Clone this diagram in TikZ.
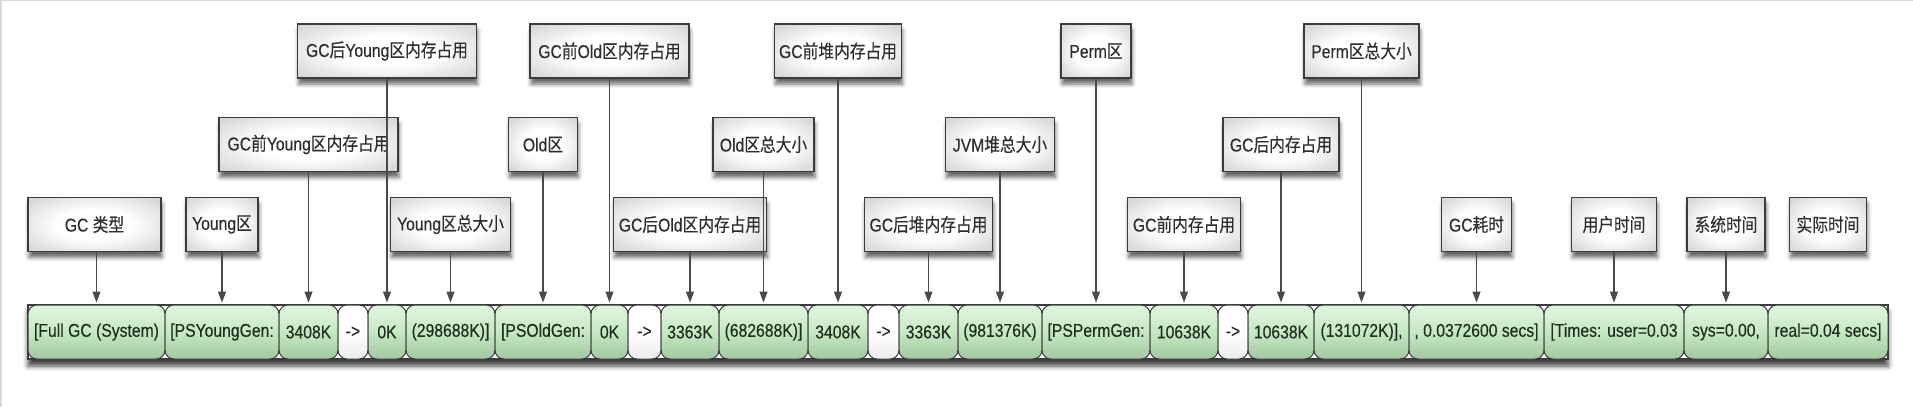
\documentclass[tikz,border=0pt]{standalone}
\usepackage{fontspec}
\setmainfont{Liberation Sans}[FakeStretch=0.85,FakeBold=0.3]
\newfontfamily\cjk{Noto Sans CJK SC}[FakeStretch=0.85,FakeBold=0.3]
\usetikzlibrary{arrows.meta,shadows.blur}
\newcommand\zh[1]{{\cjk #1}}
\definecolor{txt}{HTML}{2E2E2E}
\definecolor{celltxt}{HTML}{1F2E1F}
\definecolor{boxline}{HTML}{3C3C3C}
\definecolor{lblmid}{HTML}{B4B4B4}
\definecolor{lbledge}{HTML}{8C8C8C}
\definecolor{cellTop}{HTML}{E2F5E0}
\definecolor{cellMid}{HTML}{C6E9C3}
\definecolor{cellBot}{HTML}{A2C8A0}
\definecolor{conncol}{HTML}{4A4A4A}
\pgfdeclareradialshading{lblshade}{\pgfpoint{0bp}{0bp}}{color(0bp)=(white); color(14bp)=(white); color(50bp)=(lblmid); color(72bp)=(lbledge)}
\tikzset{
  lbl/.style={draw=boxline, line width=1.3pt, minimum height=54pt, inner sep=0pt,
    shading=lblshade, text=txt, font=\fontsize{18.5}{20}\selectfont,
    blur shadow={shadow xshift=1pt, shadow yshift=-6pt, shadow blur radius=4pt, shadow opacity=60}},
  cell/.style={draw=boxline, line width=1pt, rounded corners=9pt, minimum height=54pt, inner sep=0pt,
    top color=cellTop, bottom color=cellBot, middle color=cellMid, text=celltxt,
    font=\fontsize{18.5}{20}\selectfont},
  arrcell/.style={cell, top color=white, bottom color=white!85!gray, middle color=white},
  bar/.style={draw=boxline, line width=1.2pt, fill=white,
    blur shadow={shadow xshift=0pt, shadow yshift=-7pt, shadow blur radius=5pt, shadow opacity=75}},
  conn/.style={draw=conncol, line width=1.3pt, -{Triangle[length=11pt,width=8pt]}, shorten >=2pt},
  frame/.style={draw=gray!30, line width=2pt}
}
\begin{document}
\begin{tikzpicture}[x=1pt,y=-1pt]
\useasboundingbox (0,0) rectangle (1913,407);
\draw[frame] (1,0) coordinate (fa) -- (1,407) coordinate (fb);
\draw[frame, line width=1pt] (0,0.5) coordinate (fc) -- (1913,0.5) coordinate (fd);

% bar
\node[bar, minimum width=1860pt, minimum height=54pt, inner sep=0pt] (barbox) at (958,332) {};
\node[cell, minimum width=137pt] (c1) at (96.5,332) {[Full GC (System)};
\node[cell, minimum width=114pt] (c2) at (222,332) {[PSYoungGen:};
\node[cell, minimum width=59pt] (c3) at (308.5,332) {3408K};
\node[arrcell, minimum width=30pt] (c4) at (353,332) {->};
\node[cell, minimum width=38pt] (c5) at (387,332) {0K};
\node[cell, minimum width=89pt] (c6) at (450.5,332) {(298688K)]};
\node[cell, minimum width=96pt] (c7) at (543,332) {[PSOldGen:};
\node[cell, minimum width=37pt] (c8) at (609.5,332) {0K};
\node[arrcell, minimum width=33pt] (c9) at (644.5,332) {->};
\node[cell, minimum width=58pt] (c10) at (690,332) {3363K};
\node[cell, minimum width=89pt] (c11) at (763.5,332) {(682688K)]};
\node[cell, minimum width=60pt] (c12) at (838,332) {3408K};
\node[arrcell, minimum width=31pt] (c13) at (883.5,332) {->};
\node[cell, minimum width=59pt] (c14) at (928.5,332) {3363K};
\node[cell, minimum width=84pt] (c15) at (1000,332) {(981376K)};
\node[cell, minimum width=108pt] (c16) at (1096,332) {[PSPermGen:};
\node[cell, minimum width=68pt] (c17) at (1184,332) {10638K};
\node[arrcell, minimum width=30pt] (c18) at (1233,332) {->};
\node[cell, minimum width=66pt] (c19) at (1281,332) {10638K};
\node[cell, minimum width=95pt] (c20) at (1361.5,332) {(131072K)],};
\node[cell, minimum width=135pt] (c21) at (1476.5,332) {, 0.0372600 secs]};
\node[cell, minimum width=140pt] (c22) at (1614,332) {[Times: user=0.03};
\node[cell, minimum width=84pt] (c23) at (1726,332) {sys=0.00,};
\node[cell, minimum width=120pt] (c24) at (1828,332) {real=0.04 secs]};

% top row
\node[lbl, minimum width=179pt] (l5) at (c5 |- 0,51) {GC\zh{后}Young\zh{区内存占用}};
\node[lbl, minimum width=159pt] (l8) at (c8 |- 0,51) {GC\zh{前}Old\zh{区内存占用}};
\node[lbl, minimum width=127pt] (l12) at (c12 |- 0,51) {GC\zh{前堆内存占用}};
\node[lbl, minimum width=70pt] (l16) at (c16 |- 0,51) {Perm\zh{区}};
\node[lbl, minimum width=115pt] (l20) at (c20 |- 0,51) {Perm\zh{区总大小}};
% middle row
\node[lbl, minimum width=179pt] (l3) at (c3 |- 0,144.5) {GC\zh{前}Young\zh{区内存占用}};
\node[lbl, minimum width=69pt] (l7) at (c7 |- 0,144.5) {Old\zh{区}};
\node[lbl, minimum width=101pt] (l11) at (c11 |- 0,144.5) {Old\zh{区总大小}};
\node[lbl, minimum width=109pt] (l15) at (c15 |- 0,144.5) {JVM\zh{堆总大小}};
\node[lbl, minimum width=116pt] (l19) at (c19 |- 0,144.5) {GC\zh{后内存占用}};
% bottom row
\node[lbl, minimum width=133pt] (l1) at (94.5,224.5) {GC \zh{类型}};
\node[lbl, minimum width=72pt] (l2) at (c2 |- 0,224.5) {Young\zh{区}};
\node[lbl, minimum width=120pt] (l6) at (c6 |- 0,224.5) {Young\zh{区总大小}};
\node[lbl, minimum width=153pt] (l10) at (c10 |- 0,224.5) {GC\zh{后}Old\zh{区内存占用}};
\node[lbl, minimum width=128pt] (l14) at (c14 |- 0,224.5) {GC\zh{后堆内存占用}};
\node[lbl, minimum width=113pt] (l17) at (c17 |- 0,224.5) {GC\zh{前内存占用}};
\node[lbl, minimum width=70pt] (l21) at (c21 |- 0,224.5) {GC\zh{耗时}};
\node[lbl, minimum width=85pt] (l22) at (c22 |- 0,224.5) {\zh{用户时间}};
\node[lbl, minimum width=78pt] (l23) at (c23 |- 0,224.5) {\zh{系统时间}};
\node[lbl, minimum width=77pt] (l24) at (c24 |- 0,224.5) {\zh{实际时间}};

% connectors
\draw[conn] (l1.south -| c1.north) -- (c1.north);
\foreach \i in {2,3,5,6,7,8,10,11,12,14,15,16,17,19,20,21,22,23}
  \draw[conn] (l\i.south) -- (c\i.north);
\end{tikzpicture}
\end{document}
